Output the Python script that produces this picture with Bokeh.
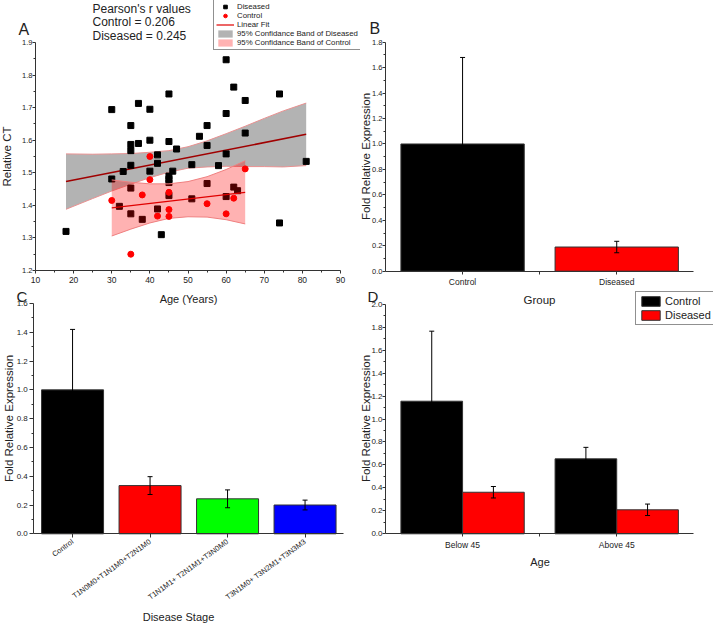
from math import pi
from bokeh.plotting import figure
from bokeh.layouts import column, row
from bokeh.models import (ColumnDataSource, Whisker, TeeHead, Legend, LegendItem, Label,
                          FixedTicker, NumeralTickFormatter, Range1d)
from bokeh.embed import file_html
from bokeh.resources import INLINE

FONT = "Liberation Sans"

# ---------------- Panel A data ----------------
dis_age = [18, 30, 30, 32, 33, 35, 35, 35, 35, 35, 35, 37, 37, 38, 40, 40, 40, 42, 42, 42, 43,
           45, 45, 45, 45, 45, 45, 46, 47, 51, 51, 53, 55, 55, 55, 58, 60, 60, 60, 60, 62, 62,
           63, 65, 65, 74, 74, 81]
dis_ct = [1.320, 1.694, 1.481, 1.397, 1.504, 1.645, 1.587, 1.568, 1.523, 1.453, 1.374, 1.713,
          1.590, 1.357, 1.695, 1.600, 1.505, 1.555, 1.529, 1.389, 1.310, 1.742, 1.596, 1.490,
          1.480, 1.470, 1.430, 1.505, 1.573, 1.525, 1.420, 1.612, 1.645, 1.584, 1.467, 1.522,
          1.847, 1.682, 1.558, 1.427, 1.763, 1.456, 1.445, 1.722, 1.622, 1.742, 1.346, 1.535]
ctl_age = [30, 35, 38, 40, 40, 42, 45, 45, 45, 55, 60, 62, 65]
ctl_ct = [1.415, 1.250, 1.432, 1.550, 1.479, 1.367, 1.440, 1.387, 1.366, 1.405, 1.374, 1.422, 1.512]

dis_fit_x = [18, 81]
dis_fit_y = [1.473, 1.618]
ctl_fit_x = [30, 65]
ctl_fit_y = [1.392, 1.440]

dis_band_x = [18, 25, 30, 35, 40, 45, 50, 55, 60, 65, 70, 75, 81]
dis_band_hi = [1.558, 1.557, 1.558, 1.559, 1.563, 1.568, 1.580, 1.598, 1.620, 1.643, 1.667, 1.690, 1.714]
dis_band_lo = [1.388, 1.421, 1.444, 1.465, 1.485, 1.502, 1.514, 1.518, 1.520, 1.519, 1.519, 1.518, 1.522]
ctl_band_x = [30, 35, 40, 45, 50, 55, 60, 65]
ctl_band_hi = [1.478, 1.471, 1.466, 1.466, 1.473, 1.488, 1.510, 1.537]
ctl_band_lo = [1.306, 1.327, 1.346, 1.360, 1.365, 1.364, 1.356, 1.343]

pearson_control = "0.206"
pearson_diseased = "0.245"

age_ticks = [10, 20, 30, 40, 50, 60, 70, 80, 90]
ct_ticks = [1.2, 1.3, 1.4, 1.5, 1.6, 1.7, 1.8, 1.9]

# ---------------- Panel B data ----------------
groups_b = ["Control", "Diseased"]
mean_b = [1.00, 0.19]
err_b = [0.68, 0.045]
colors_b = ["#000000", "#FF0000"]

# ---------------- Panel C data ----------------
stages_c = ["Control", "T1N0M0+T1N1M0+T2N1M0", "T1N1M1+ T2N1M1+T3N0M0", "T3N1M0+ T3N2M1+T3N3M3"]
mean_c = [1.00, 0.335, 0.243, 0.200]
err_c = [0.42, 0.062, 0.062, 0.034]
colors_c = ["#000000", "#FF0000", "#00FF00", "#0000FF"]

# ---------------- Panel D data ----------------
ages_d = ["Below 45", "Above 45"]
ctl_d = [1.155, 0.653]
ctl_err_d = [0.61, 0.10]
dis_d = [0.362, 0.209]
dis_err_d = [0.05, 0.05]


class Geo:
    """Maps page pixels to data values for a figure whose frame fills its canvas."""
    def __init__(self, left, top, W, H, xa, pxa, xb, pxb, ya, pya, yb, pyb):
        self.left, self.top, self.W, self.H = left, top, W, H
        self.sx = (pxb - pxa) / (xb - xa)
        self.sy = (pya - pyb) / (yb - ya)
        self.xa, self.pxa, self.ya, self.pya = xa, pxa, ya, pya
        self.x0 = self.X(left)
        self.x1 = self.X(left + W)
        self.y0 = self.Y(top + H)
        self.y1 = self.Y(top)

    def X(self, px):
        return self.xa + (px - self.pxa) / self.sx

    def Y(self, py):
        return self.ya + (self.pya - py) / self.sy


def make_fig(g):
    p = figure(width=g.W, height=g.H, x_range=Range1d(g.x0, g.x1), y_range=Range1d(g.y0, g.y1),
               output_backend="svg", toolbar_location=None,
               min_border=0, min_border_left=0, min_border_right=0,
               min_border_top=0, min_border_bottom=0)
    p.outline_line_color = None
    p.xgrid.visible = False
    p.ygrid.visible = False
    p.background_fill_color = "white"
    p.border_fill_color = "white"
    return p


def style_axes(p, xsize, ysize, xloc, yloc, xb, yb, tick_out=3, xstand=3, ystand=0):
    p.xaxis.fixed_location = xloc
    p.yaxis.fixed_location = yloc
    p.xaxis.bounds = xb
    p.yaxis.bounds = yb
    for ax in p.axis:
        ax.axis_line_color = "#333333"
        ax.major_tick_line_color = "#333333"
        ax.minor_tick_line_color = "#333333"
        ax.major_tick_out = tick_out
        ax.major_tick_in = 0
        ax.minor_tick_out = 2
        ax.minor_tick_in = 0
        ax.major_label_text_font = FONT
        ax.major_label_text_color = "#222222"
    p.xaxis.major_label_text_font_size = xsize
    p.yaxis.major_label_text_font_size = ysize
    p.xaxis.major_label_standoff = xstand
    p.yaxis.major_label_standoff = ystand


def text(p, g, px, py, t, size="12px", align="left", angle=0.0):
    p.add_layout(Label(x=g.X(px), y=g.Y(py), text=t, text_font=FONT, text_font_size=size,
                       text_align=align, text_baseline="middle", text_color="#222222",
                       angle=angle))


def whisker(p, src):
    p.add_layout(Whisker(base="x", upper="upper", lower="lower", source=src, level="annotation",
                         line_color="black", line_width=1,
                         upper_head=TeeHead(size=5, line_color="black"),
                         lower_head=TeeHead(size=5, line_color="black")))


# page geometry: (left, top, width, height) + two reference points per axis
gA = Geo(0, 0, 360, 287, 10, 35, 90, 340, 1.2, 270, 1.9, 42)
gB = Geo(360, 0, 353, 287, 0.5, 385, 2.5, 693.3, 0.0, 270.7, 1.8, 41.7)
gC = Geo(0, 287, 360, 338, 0.5, 33.3, 4.5, 343.3, 0.0, 533.3, 1.6, 303)
gD = Geo(360, 287, 353, 338, 0.5, 385, 2.5, 693.3, 0.0, 533.3, 2.0, 303.7)

# ================= Panel A =================
pA = make_fig(gA)
style_axes(pA, "8.5px", "7.5px", 1.2, 10, (10, 90), (1.2, 1.9))
pA.xaxis.ticker = FixedTicker(ticks=age_ticks, minor_ticks=[t + 5 for t in age_ticks[:-1]])
pA.yaxis.ticker = FixedTicker(ticks=ct_ticks, minor_ticks=[round(t + 0.05, 2) for t in ct_ticks[:-1]])
pA.yaxis.formatter = NumeralTickFormatter(format="0.0")

r_gband = pA.varea(x=dis_band_x, y1=dis_band_lo, y2=dis_band_hi, fill_color="#B3B3B3")
pA.line(dis_band_x, dis_band_hi, line_color="#E89090", line_width=1)
pA.line(dis_band_x, dis_band_lo, line_color="#E89090", line_width=1)
pA.line(dis_fit_x, dis_fit_y, line_color="#A00000", line_width=1.5)
r_dis = pA.scatter(dis_age, dis_ct, marker="square", size=6, fill_color="black", line_color="black")
r_pband = pA.varea(x=ctl_band_x, y1=ctl_band_lo, y2=ctl_band_hi, fill_color="#FF0000", fill_alpha=0.3)
pA.line(ctl_band_x, ctl_band_hi, line_color="#F08080", line_width=1)
pA.line(ctl_band_x, ctl_band_lo, line_color="#F08080", line_width=1)
r_ctl = pA.scatter(ctl_age, ctl_ct, marker="circle", size=6, fill_color="#FF0000", line_color="#FF0000")
r_fit = pA.line(ctl_fit_x, ctl_fit_y, line_color="#E00000", line_width=1.2)

legA = Legend(items=[
    LegendItem(label="Diseased", renderers=[r_dis]),
    LegendItem(label="Control", renderers=[r_ctl]),
    LegendItem(label="Linear Fit", renderers=[r_fit]),
    LegendItem(label="95% Confidance Band of Diseased", renderers=[r_gband]),
    LegendItem(label="95% Confidance Band of Control", renderers=[r_pband]),
], location=(213, 237), orientation="vertical",
    label_text_font=FONT, label_text_font_size="7.8px", label_text_color="#222222",
    glyph_width=18, glyph_height=9, label_height=9, spacing=0, padding=2, margin=0,
    label_standoff=3, border_line_color="#222222", border_line_width=1,
    background_fill_color="white", background_fill_alpha=1)
pA.add_layout(legA)

text(pA, gA, 92, 8, "Pearson's r values", size="12px")
text(pA, gA, 92, 21.5, "Control  = " + pearson_control, size="12px")
text(pA, gA, 92, 35, "Diseased =  " + pearson_diseased, size="12px")
text(pA, gA, 18, 29, "A", size="16px")
text(pA, gA, 6, 156, "Relative CT", size="11.5px", align="center", angle=pi / 2)

# ================= Panel B =================
pB = make_fig(gB)
style_axes(pB, "8.5px", "7.5px", 0.0, 0.5, (0.5, 2.5), (0.0, 1.8))
srcB = ColumnDataSource(dict(x=[1, 2], top=mean_b, color=colors_b,
                             upper=[m + e for m, e in zip(mean_b, err_b)],
                             lower=[m - e for m, e in zip(mean_b, err_b)]))
pB.vbar(x="x", top="top", width=0.8, fill_color="color", line_color="#333333", source=srcB)
whisker(pB, srcB)
pB.xaxis.ticker = FixedTicker(ticks=[1, 2], minor_ticks=[1.5])
pB.xaxis.major_label_overrides = {1: groups_b[0], 2: groups_b[1]}
pB.xaxis.minor_tick_out = 3
pB.yaxis.ticker = FixedTicker(ticks=[0, 0.2, 0.4, 0.6, 0.8, 1.0, 1.2, 1.4, 1.6, 1.8],
                              minor_ticks=[0.1, 0.3, 0.5, 0.7, 0.9, 1.1, 1.3, 1.5, 1.7])
pB.yaxis.formatter = NumeralTickFormatter(format="0.0")
text(pB, gB, 369, 28, "B", size="16px")
text(pB, gB, 365, 156, "Fold Relative Expression", size="11.5px", align="center", angle=pi / 2)

# ================= Panel C =================
pC = make_fig(gC)
style_axes(pC, "8px", "8px", 0.0, 0.5, (0.5, 4.5), (0.0, 1.6), tick_out=4, ystand=2)
srcC = ColumnDataSource(dict(x=[1, 2, 3, 4], top=mean_c, color=colors_c,
                             upper=[m + e for m, e in zip(mean_c, err_c)],
                             lower=[m - e for m, e in zip(mean_c, err_c)]))
pC.vbar(x="x", top="top", width=0.8, fill_color="color", line_color="#333333", source=srcC)
whisker(pC, srcC)
pC.xaxis.ticker = FixedTicker(ticks=[1, 2, 3, 4])
pC.xaxis.major_label_overrides = {i + 1: s for i, s in enumerate(stages_c)}
pC.xaxis.major_label_orientation = 0.63
pC.xaxis.major_label_text_font_size = "7.5px"
pC.yaxis.ticker = FixedTicker(ticks=[0, 0.2, 0.4, 0.6, 0.8, 1.0, 1.2, 1.4, 1.6],
                              minor_ticks=[0.1, 0.3, 0.5, 0.7, 0.9, 1.1, 1.3, 1.5])
pC.yaxis.formatter = NumeralTickFormatter(format="0.0")
text(pC, gC, 16, 295.5, "C", size="15px")
text(pC, gC, 188, 298.5, "Age (Years)", size="11px", align="center")
text(pC, gC, 178, 616, "Disease Stage", size="11px", align="center")
text(pC, gC, 8, 418, "Fold Relative Expression", size="11.5px", align="center", angle=pi / 2)

# ================= Panel D =================
pD = make_fig(gD)
style_axes(pD, "8.5px", "8px", 0.0, 0.5, (0.5, 2.5), (0.0, 2.0))
srcDc = ColumnDataSource(dict(x=[0.8, 1.8], top=ctl_d,
                              upper=[m + e for m, e in zip(ctl_d, ctl_err_d)],
                              lower=[m - e for m, e in zip(ctl_d, ctl_err_d)]))
srcDd = ColumnDataSource(dict(x=[1.2, 2.2], top=dis_d,
                              upper=[m + e for m, e in zip(dis_d, dis_err_d)],
                              lower=[m - e for m, e in zip(dis_d, dis_err_d)]))
rDc = pD.vbar(x="x", top="top", width=0.4, fill_color="#000000", line_color="#333333", source=srcDc)
rDd = pD.vbar(x="x", top="top", width=0.4, fill_color="#FF0000", line_color="#333333", source=srcDd)
whisker(pD, srcDc)
whisker(pD, srcDd)
pD.xaxis.ticker = FixedTicker(ticks=[1, 2], minor_ticks=[1.5])
pD.xaxis.major_label_overrides = {1: ages_d[0], 2: ages_d[1]}
pD.xaxis.minor_tick_out = 3
pD.yaxis.ticker = FixedTicker(ticks=[0, 0.2, 0.4, 0.6, 0.8, 1.0, 1.2, 1.4, 1.6, 1.8, 2.0],
                              minor_ticks=[0.1, 0.3, 0.5, 0.7, 0.9, 1.1, 1.3, 1.5, 1.7, 1.9])
pD.yaxis.formatter = NumeralTickFormatter(format="0.0")
legD = Legend(items=[LegendItem(label="Control", renderers=[rDc]),
                     LegendItem(label="Diseased", renderers=[rDd])],
              location=(275, 300), label_text_font=FONT, label_text_font_size="11px",
              label_text_color="#222222", glyph_width=23, glyph_height=12, label_height=12,
              spacing=2, padding=3, margin=0, label_standoff=3,
              border_line_color="#222222", border_line_width=1,
              background_fill_color="white", background_fill_alpha=1)
pD.add_layout(legD)
text(pD, gD, 367, 295.5, "D", size="15px")
text(pD, gD, 539, 299, "Group", size="11.5px", align="center")
text(pD, gD, 539.5, 561, "Age", size="11px", align="center")
text(pD, gD, 365, 418, "Fold Relative Expression", size="11.5px", align="center", angle=pi / 2)

layout = column(row(pA, pB), row(pC, pD))
open("out.html", "w").write(file_html(layout, INLINE))
